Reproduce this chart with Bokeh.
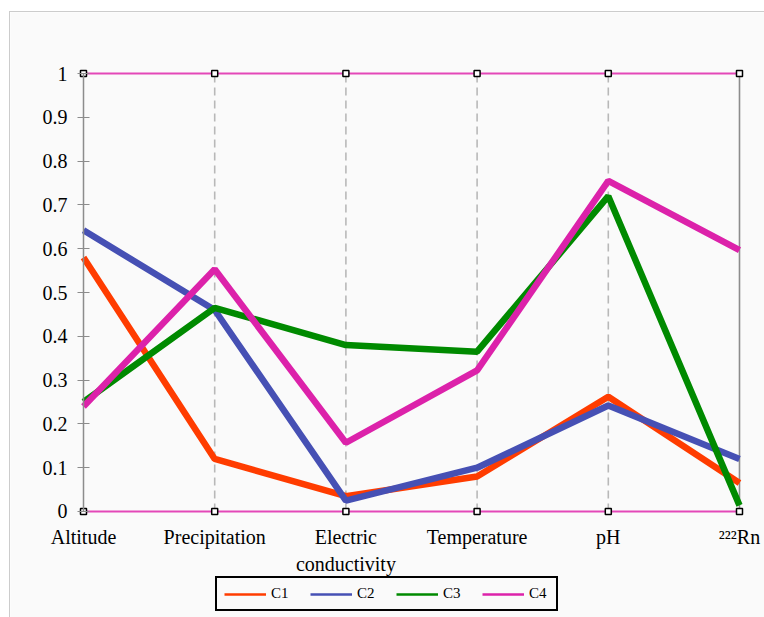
from bokeh.plotting import figure
from bokeh.models import Range1d, FixedTicker, Legend, LegendItem
from bokeh.embed import file_html
from bokeh.resources import INLINE

categories = ["Altitude", "Precipitation", "Electric\nconductivity", "Temperature", "pH", "\u00b2\u00b2\u00b2Rn"]
c1 = [0.58, 0.12, 0.035, 0.08, 0.262, 0.065]
c2 = [0.642, 0.46, 0.025, 0.10, 0.242, 0.12]
c3 = [0.25, 0.465, 0.38, 0.365, 0.72, 0.014]
c4 = [0.24, 0.553, 0.157, 0.322, 0.755, 0.597]
series_names = ["C1", "C2", "C3", "C4"]
series_colors = ["#ff3c00", "#4650b4", "#008a00", "#dc22aa"]
y_ticks = [0, 0.1, 0.2, 0.3, 0.4, 0.5, 0.6, 0.7, 0.8, 0.9, 1]
y_tick_labels = ["0", "0.1", "0.2", "0.3", "0.4", "0.5", "0.6", "0.7", "0.8", "0.9", "1"]

xs = list(range(len(categories)))
FONT = "Liberation Serif"
BG = "#fafafa"

p = figure(width=755, height=606, output_backend="svg", toolbar_location=None,
           x_range=Range1d(-0.5564, 5.1982), y_range=Range1d(-0.2443, 1.1393),
           min_border_left=0, min_border_right=0, min_border_top=0, min_border_bottom=0,
           background_fill_color=BG, border_fill_color=BG, outline_line_color=None)
p.margin = (11, 0, 0, 9)
p.styles = {"border-left": "1px solid #cccccc", "border-top": "1px solid #cccccc"}
p.grid.visible = False

# vertical axis guides
for i in xs[1:-1]:
    p.line([i, i], [0, 1], line_color="#b8b8b8", line_width=1.6, line_dash="8 5")
p.line([xs[-1], xs[-1]], [0, 1], line_color="#8c8c8c", line_width=1.6)

# top and bottom bounds
p.line([xs[0], xs[-1]], [0, 0], line_color="#e348b8", line_width=2)
p.line([xs[0], xs[-1]], [1, 1], line_color="#e348b8", line_width=2)

renderers = []
for vals, col in zip([c1, c2, c3, c4], series_colors):
    renderers.append(p.line(xs, vals, line_color=col, line_width=6.5))

# markers on bounds
p.scatter(xs, [0] * len(xs), marker="square", size=6, fill_color="white", line_color="black", line_width=1.5)
p.scatter(xs, [1] * len(xs), marker="square", size=6, fill_color="white", line_color="black", line_width=1.5)

# y axis
ya = p.yaxis[0]
ya.fixed_location = 0
ya.bounds = (0, 1)
ya.ticker = FixedTicker(ticks=y_ticks)
ya.major_label_overrides = {t: l for t, l in zip(y_ticks, y_tick_labels)}
ya.minor_tick_line_color = None
ya.major_tick_in = 6
ya.major_tick_out = 6
ya.major_tick_line_color = "#8c8c8c"
ya.axis_line_color = "#8c8c8c"
ya.axis_line_width = 1.5
ya.major_label_text_font = FONT
ya.major_label_text_font_size = "20px"
ya.major_label_text_color = "black"
ya.major_label_standoff = 10

# x axis
xa = p.xaxis[0]
xa.fixed_location = 0
xa.ticker = FixedTicker(ticks=xs)
xa.major_label_overrides = {i: c for i, c in zip(xs, categories)}
xa.axis_line_color = None
xa.major_tick_line_color = None
xa.minor_tick_line_color = None
xa.major_label_text_font = FONT
xa.major_label_text_font_size = "20px"
xa.major_label_text_color = "black"
xa.major_label_standoff = 9

# legend with thinner sample lines
leg_rs = [p.line(xs[:1], vals[:1], line_color=col, line_width=2.5, visible=False)
          for vals, col in zip([c1, c2, c3, c4], series_colors)]
legend = Legend(items=[LegendItem(label=n, renderers=[r]) for n, r in zip(series_names, leg_rs)],
                orientation="horizontal", location=(205, 7),
                border_line_color="black", border_line_width=2, border_line_alpha=1,
                background_fill_color=BG, background_fill_alpha=1,
                label_text_font=FONT, label_text_font_size="15px", label_text_color="black",
                glyph_width=42, glyph_height=16, label_standoff=5, spacing=19, padding=7, margin=0)
p.add_layout(legend, "center")

open("out.html", "w").write(file_html(p, INLINE))
